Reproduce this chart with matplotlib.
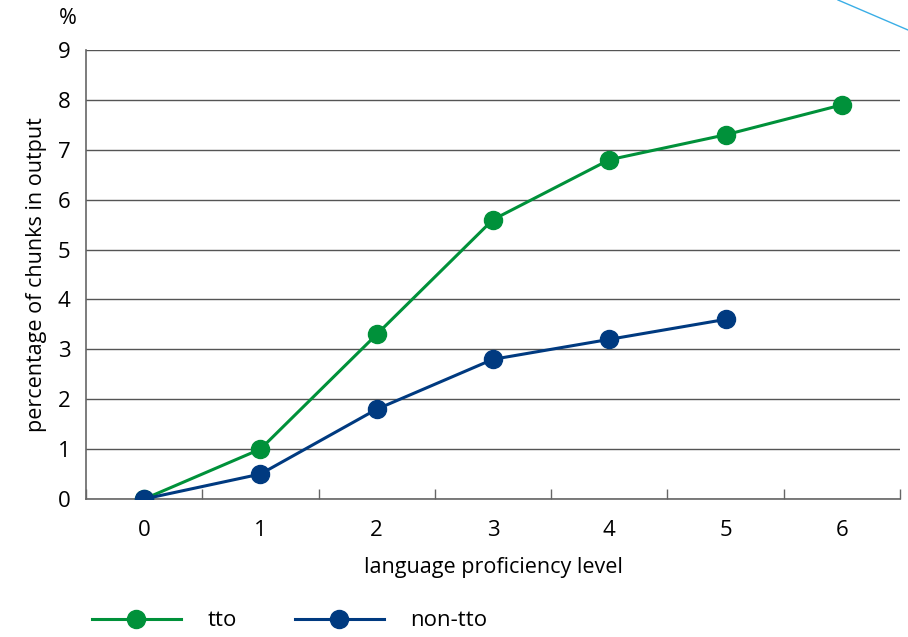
import matplotlib.pyplot as plt
from matplotlib.lines import Line2D

levels = [0, 1, 2, 3, 4, 5, 6]
tto = [0.0, 1.0, 3.3, 5.6, 6.8, 7.3, 7.9]
non_tto_levels = [0, 1, 2, 3, 4, 5]
non_tto = [0.0, 0.5, 1.8, 2.8, 3.2, 3.6]

green = '#00913a'
blue = '#003a80'
font = 'Open Sans'

plt.rcParams['font.family'] = [font, 'DejaVu Sans']

fig = plt.figure(figsize=(9.08, 6.37), dpi=100)
ax = fig.add_axes([86 / 908, 138 / 637, 814 / 908, 449 / 637])

ax.plot(levels, tto, color=green, lw=2.2, marker='o', ms=13, label='tto', zorder=3)
ax.plot(non_tto_levels, non_tto, color=blue, lw=2.2, marker='o', ms=13, label='non-tto', zorder=3)

ax.set_xlim(-0.5, 6.5)
ax.set_ylim(0, 9)
ax.set_yticks(range(10))
ax.set_xticks(levels)
ax.set_xticks([x - 0.5 for x in range(8)], minor=True)
ax.tick_params(axis='x', which='major', length=0, pad=15, labelsize=16)
ax.tick_params(axis='x', which='minor', direction='in', length=7, width=1, color='#666666')
ax.tick_params(axis='y', length=0, pad=11, labelsize=16)

ax.grid(axis='y', color='#555555', lw=1)
ax.set_axisbelow(True)
for side in ['top', 'right']:
    ax.spines[side].set_visible(False)
for side in ['left', 'bottom']:
    ax.spines[side].set_color('#666666')
    ax.spines[side].set_linewidth(1.2)

ax.set_xlabel('language proficiency level', fontsize=15.5, labelpad=12)
ax.set_ylabel('percentage of chunks in output', fontsize=15.5, labelpad=8)
fig.text(68 / 908, 1 - 18 / 637, '%', fontsize=15.5, ha='center', va='center')

# legend under the plot
fig.legend(loc='center left', bbox_to_anchor=(72 / 908, 1 - 621 / 637), ncol=2, frameon=False,
           fontsize=16, handlelength=4.0, handletextpad=1.2, columnspacing=2.6)

# thin accent line in the top right corner
fig.add_artist(Line2D([838 / 908, 1.0], [1.0, 1 - 30 / 637], color='#3aaee6', lw=1))

fig.savefig('out.png', dpi=100)
